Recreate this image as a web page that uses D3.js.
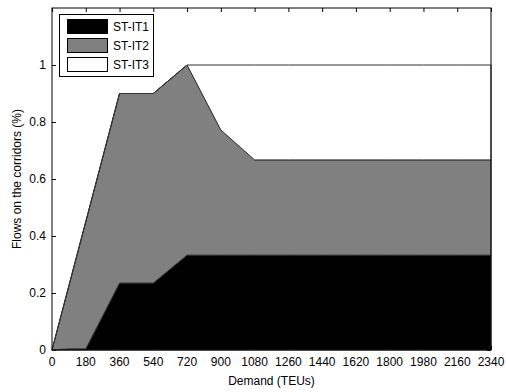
<!DOCTYPE html>
<html><head><meta charset="utf-8">
<script src="https://cdn.jsdelivr.net/npm/d3@7"></script>
<style>
body{margin:0;background:#fff;}
svg text{font-family:"Liberation Sans Narrow","Liberation Sans",Arial,sans-serif;font-size:12px;fill:#000;}
</style></head><body>
<svg id="c" width="506" height="392"></svg>
<script>
const demand = [0, 90, 180, 360, 540, 720, 900, 1080, 1260, 1440, 1620, 1800, 1980, 2160, 2340];
const stIT1 = [0, 0.004, 0.004, 0.235, 0.235, 0.333, 0.333, 0.333, 0.333, 0.333, 0.333, 0.333, 0.333, 0.333, 0.333];
const stIT2 = [0, 0.221, 0.446, 0.665, 0.665, 0.667, 0.439, 0.334, 0.334, 0.334, 0.334, 0.334, 0.334, 0.334, 0.334];
const stIT3 = [0, 0, 0, 0, 0, 0, 0.228, 0.333, 0.333, 0.333, 0.333, 0.333, 0.333, 0.333, 0.333];
const seriesNames = ["ST-IT1", "ST-IT2", "ST-IT3"];
const seriesColors = ["#000000", "#808080", "#ffffff"];
const xTicks = [0,180,360,540,720,900,1080,1260,1440,1620,1800,1980,2160,2340];
const yTicks = [0,0.2,0.4,0.6,0.8,1];

const svg = d3.select("#c");
const L = 52, R = 491, T = 8, B = 350;
const x = d3.scaleLinear().domain([0, 2340]).range([L, R]);
const y = d3.scaleLinear().domain([0, 1.2]).range([B, T]);

const rows = demand.map((d, i) => ({d, a: stIT1[i], b: stIT2[i], c: stIT3[i]}));
const stack = d3.stack().keys(["a","b","c"])(rows);

// tick marks inside (drawn beneath data)
const g = svg.append("g");
g.append("g").attr("transform", `translate(0,${B})`)
  .call(d3.axisBottom(x).tickValues(xTicks).tickSizeInner(-4).tickSizeOuter(0).tickFormat(""))
  .call(s => s.select(".domain").remove());
g.append("g").attr("transform", `translate(0,${T})`)
  .call(d3.axisTop(x).tickValues(xTicks).tickSizeInner(-4).tickSizeOuter(0).tickFormat(""))
  .call(s => s.select(".domain").remove());
g.append("g").attr("transform", `translate(${L},0)`)
  .call(d3.axisLeft(y).tickValues(yTicks).tickSizeInner(-4).tickSizeOuter(0).tickFormat(""))
  .call(s => s.select(".domain").remove());
g.append("g").attr("transform", `translate(${R},0)`)
  .call(d3.axisRight(y).tickValues(yTicks).tickSizeInner(-4).tickSizeOuter(0).tickFormat(""))
  .call(s => s.select(".domain").remove());
g.selectAll(".tick line").attr("stroke", "#000");

const area = d3.area().x(d => x(d.data.d)).y0(d => y(d[0])).y1(d => y(d[1]));
svg.append("g").selectAll("path").data(stack).join("path")
  .attr("d", area)
  .attr("fill", (d, i) => seriesColors[i])
  .attr("stroke", "#333")
  .attr("stroke-width", 1)
  .attr("stroke-linejoin", "round");

// frame
svg.append("rect").attr("x", L).attr("y", T).attr("width", R - L).attr("height", B - T)
  .attr("fill", "none").attr("stroke", "#000").attr("stroke-width", 1);

// tick labels
svg.append("g").selectAll("text").data(xTicks).join("text")
  .attr("x", d => x(d)).attr("y", 366).attr("text-anchor", "middle").text(d => d);
svg.append("g").selectAll("text").data(yTicks).join("text")
  .attr("x", 46).attr("y", d => y(d) + 4).attr("text-anchor", "end").text(d => d);

svg.append("text").attr("x", (L + R) / 2).attr("y", 385).attr("text-anchor", "middle").text("Demand (TEUs)");
svg.append("text").attr("transform", `translate(21,${(T + B) / 2}) rotate(-90)`)
  .attr("text-anchor", "middle").text("Flows on the corridors (%)");

// legend
const lg = svg.append("g");
lg.append("rect").attr("x", 59.5).attr("y", 14.5).attr("width", 94).attr("height", 62)
  .attr("fill", "#fff").attr("stroke", "#000");
seriesNames.forEach((n, i) => {
  lg.append("rect").attr("x", 67.5).attr("y", 19.5 + i * 19).attr("width", 40).attr("height", 14)
    .attr("fill", seriesColors[i]).attr("stroke", "#000");
  lg.append("text").attr("x", 113).attr("y", 31 + i * 19).text(n);
});
</script>
</body></html>
